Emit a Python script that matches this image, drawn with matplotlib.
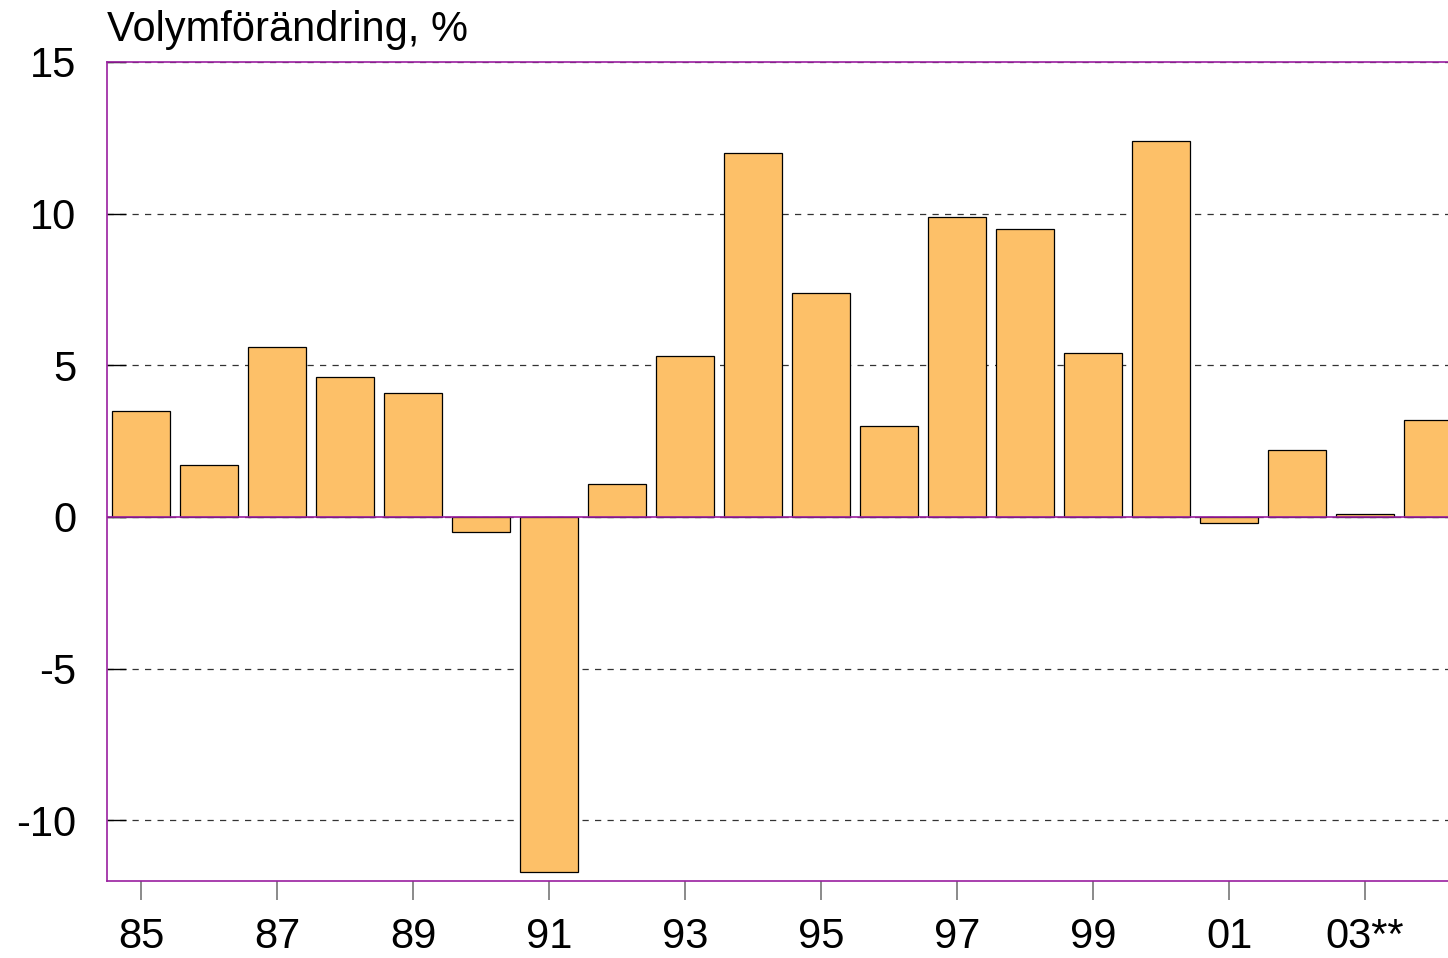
"""Volume change per year, bar chart."""
import matplotlib
matplotlib.use("Agg")
import matplotlib.pyplot as plt

plt.rcParams["font.family"] = ["Liberation Sans", "DejaVu Sans"]
plt.rcParams["axes.unicode_minus"] = False

years = list(range(85, 105))
values = [3.5, 1.7, 5.6, 4.6, 4.1, -0.5, -11.7, 1.1, 5.3, 12.0,
          7.4, 3.0, 9.9, 9.5, 5.4, 12.4, -0.2, 2.2, 0.1, 3.2]
tick_pos = list(range(85, 105, 2))
tick_labels = ["85", "87", "89", "91", "93", "95", "97", "99", "01", "03**"]
y_ticks = [-10, -5, 0, 5, 10, 15]

PURPLE = "#9a1fa0"
BAR = "#fdc068"

fig = plt.figure(figsize=(14.48, 9.58), dpi=100)
ax = fig.add_axes([107 / 1448, 1 - 881 / 958, 1 - 107 / 1448, (881 - 62) / 958])

ax.bar(years, values, width=0.86, color=BAR, edgecolor="black", linewidth=0.9, zorder=2)

ax.set_xlim(84.5, 104.22)
ax.set_ylim(-12, 15)
ax.set_yticks(y_ticks)
ax.set_xticks(tick_pos)
ax.set_xticklabels(tick_labels)

ax.grid(axis="y", linestyle=(0, (5, 5)), color="#333333", linewidth=0.9, zorder=1)
ax.axhline(0, color=PURPLE, linewidth=1.2, zorder=3)

for side in ("left", "bottom", "top"):
    ax.spines[side].set_color(PURPLE)
    ax.spines[side].set_linewidth(1.2)
ax.spines["right"].set_visible(False)

ax.tick_params(axis="x", direction="out", length=14, width=1.2, color="#777777",
               labelsize=30, pad=12)
ax.tick_params(axis="y", direction="in", length=14, width=1, color="black",
               labelsize=30, pad=22)

fig.text(107 / 1448, 1 - 41 / 958, "Volymförändring, %", fontsize=30,
         ha="left", va="baseline")

fig.savefig("out.png", dpi=100)
